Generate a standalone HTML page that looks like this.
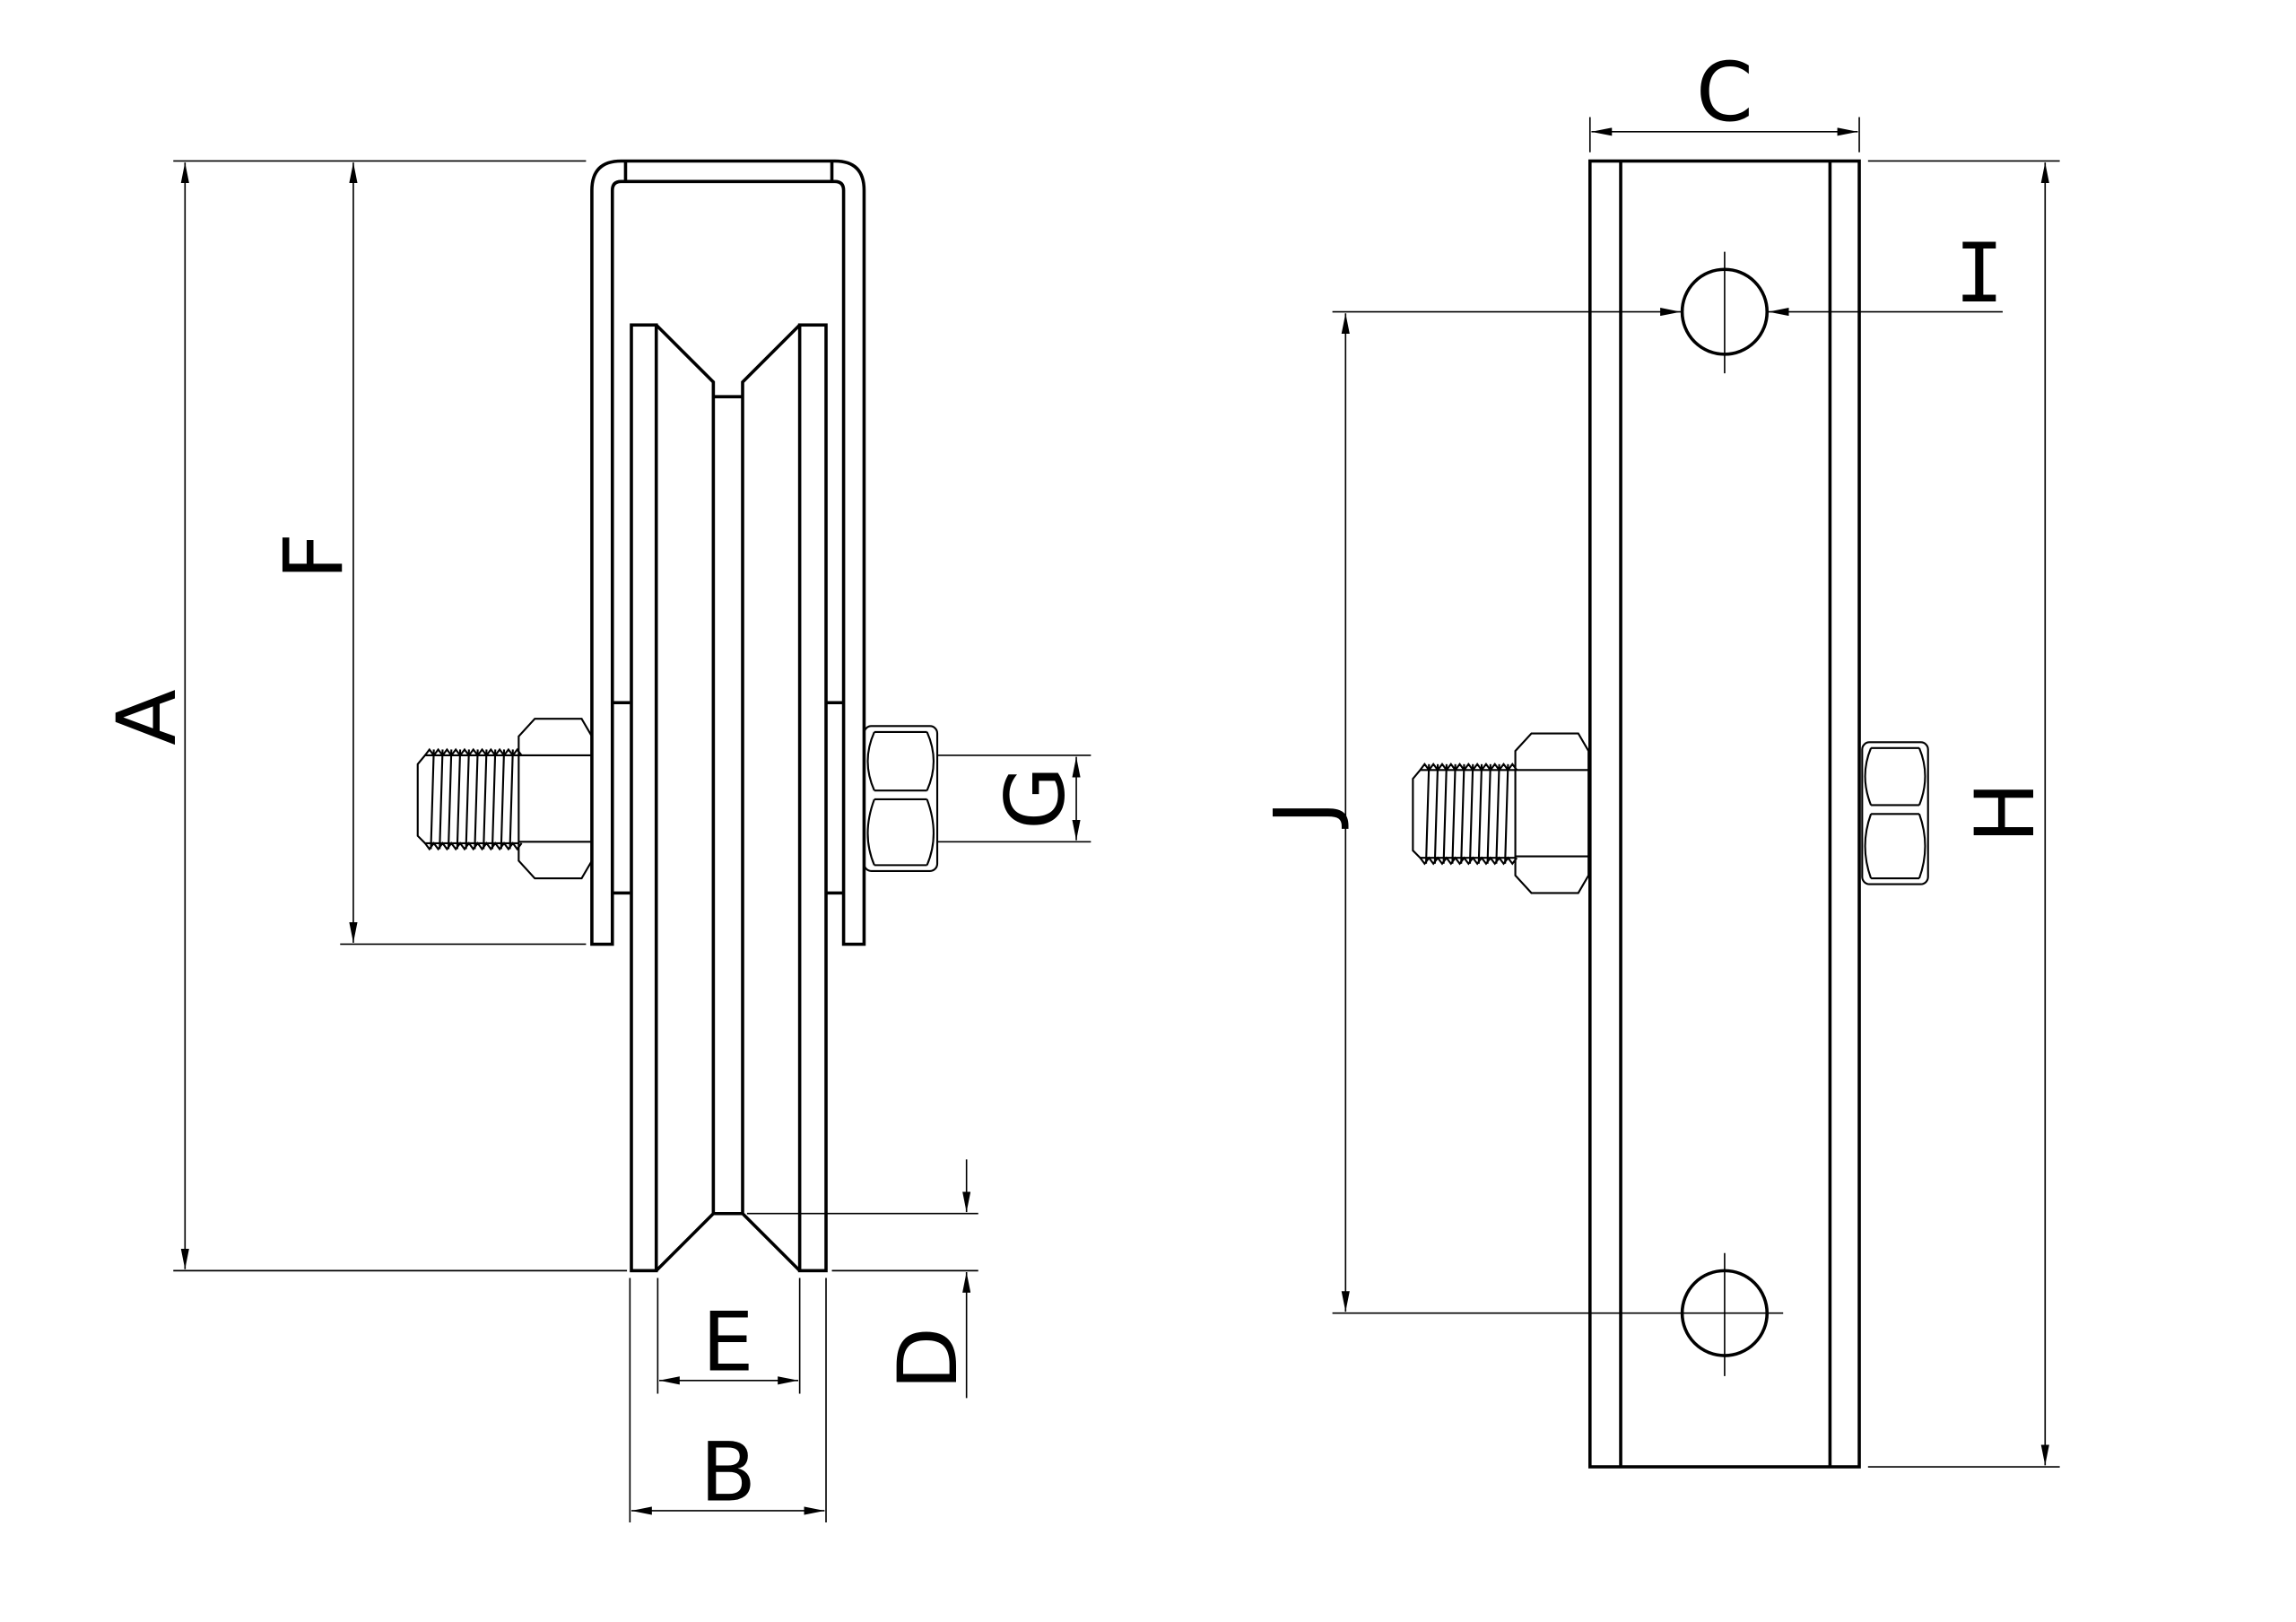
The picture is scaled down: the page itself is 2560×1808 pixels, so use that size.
<!DOCTYPE html>
<html><head><meta charset="utf-8"><style>
html,body{margin:0;padding:0;background:#fff}
svg{display:block}
text{font-family:"DejaVu Sans","Liberation Sans",sans-serif;font-size:56px;fill:#000}
</style></head><body>
<svg width="2560" height="1808" viewBox="0 0 1568 1108" xmlns="http://www.w3.org/2000/svg">
<defs>
<marker id="ar" viewBox="0 0 10 4" refX="10" refY="2" markerWidth="14" markerHeight="5.6" markerUnits="userSpaceOnUse" orient="auto-start-reverse">
<path d="M0,0 L10,2 L0,4 z" fill="#000"/></marker>
</defs>
<g fill="none" stroke="#000" stroke-width="2.2">
<!-- bracket -->
<path d="M404,645 V130 Q404,110 424,110 H570 Q590,110 590,130 V645 H576 V130 Q576,124 570,124 H424 Q418,124 418,130 V645 Z"/>
<line x1="427" y1="110" x2="427" y2="124"/><line x1="568" y1="110" x2="568" y2="124"/>
<line x1="418" y1="480" x2="430" y2="480"/><line x1="418" y1="610" x2="430" y2="610"/>
<line x1="564" y1="480" x2="576" y2="480"/><line x1="564" y1="610" x2="576" y2="610"/>
<!-- wheel -->
<rect x="431" y="222" width="17" height="646"/>
<rect x="546" y="222" width="18" height="646"/>
<path d="M448,222 L487,261 V829 L448,868"/>
<path d="M546,222 L507,261 V829 L546,868"/>
<line x1="487" y1="271" x2="507" y2="271"/><line x1="487" y1="829" x2="507" y2="829"/>
<!-- right view -->
<rect x="1086" y="110" width="184" height="892"/>
<line x1="1107" y1="110" x2="1107" y2="1002"/><line x1="1250" y1="110" x2="1250" y2="1002"/>
<circle cx="1178" cy="213" r="29"/><circle cx="1178" cy="897" r="29"/>
</g>
<g fill="none" stroke="#000" stroke-width="1.3">
<!-- left bolt -->
<path d="M365,491 H397 L404,503 V588 L397,600 H365 L354,588 V503 Z"/>
<line x1="354" y1="516" x2="404" y2="516"/><line x1="354" y1="575" x2="404" y2="575"/>
<path d="M354,516 L290,516 L285,522 V571 L290,576 H354"/>
<path d="M290,516 l3,-4 l3,4 l3,-4 l3,4 l3,-4 l3,4 l3,-4 l3,4 l3,-4 l3,4 l3,-4 l3,4 l3,-4 l3,4 l3,-4 l3,4 l3,-4 l3,4 l3,-4 l3,4 l3,-4 l3,4"/>
<path d="M290,576 l3,4 l3,-4 l3,4 l3,-4 l3,4 l3,-4 l3,4 l3,-4 l3,4 l3,-4 l3,4 l3,-4 l3,4 l3,-4 l3,4 l3,-4 l3,4 l3,-4 l3,4 l3,-4 l3,4 l3,-4"/>
<path d="M296,512 l-2,68 M302,512 l-2,68 M308,512 l-2,68 M314,512 l-2,68 M320,512 l-2,68 M326,512 l-2,68 M332,512 l-2,68 M338,512 l-2,68 M344,512 l-2,68 M350,512 l-2,68"/>
<!-- right nut left view -->
<rect x="590" y="496" width="50" height="99" rx="5"/>
<path d="M597,500 Q588,520 597,540 M633,500 Q642,520 633,540 M597,546 Q588,570 597,591 M633,546 Q642,570 633,591"/>
<line x1="597" y1="500" x2="633" y2="500"/><line x1="597" y1="540" x2="633" y2="540"/><line x1="597" y1="546" x2="633" y2="546"/><line x1="597" y1="591" x2="633" y2="591"/>
<!-- right view bolt -->
<path d="M1046,501 H1078 L1085,513 V598 L1078,610 H1046 L1035,598 V513 Z"/>
<line x1="1035" y1="526" x2="1085" y2="526"/><line x1="1035" y1="585" x2="1085" y2="585"/>
<path d="M1035,526 L970,526 L965,532 V581 L970,586 H1035"/>
<path d="M970,526 l3,-4 l3,4 l3,-4 l3,4 l3,-4 l3,4 l3,-4 l3,4 l3,-4 l3,4 l3,-4 l3,4 l3,-4 l3,4 l3,-4 l3,4 l3,-4 l3,4 l3,-4 l3,4 l3,-4 l3,4"/>
<path d="M970,586 l3,4 l3,-4 l3,4 l3,-4 l3,4 l3,-4 l3,4 l3,-4 l3,4 l3,-4 l3,4 l3,-4 l3,4 l3,-4 l3,4 l3,-4 l3,4 l3,-4 l3,4 l3,-4 l3,4 l3,-4"/>
<path d="M976,522 l-2,68 M982,522 l-2,68 M988,522 l-2,68 M994,522 l-2,68 M1000,522 l-2,68 M1006,522 l-2,68 M1012,522 l-2,68 M1018,522 l-2,68 M1024,522 l-2,68 M1030,522 l-2,68"/>
<rect x="1272" y="507" width="45" height="97" rx="5"/>
<path d="M1278,511 Q1270,530 1278,550 M1311,511 Q1319,530 1311,550 M1278,556 Q1270,578 1278,600 M1311,556 Q1319,578 1311,600"/>
<line x1="1278" y1="511" x2="1311" y2="511"/><line x1="1278" y1="550" x2="1311" y2="550"/><line x1="1278" y1="556" x2="1311" y2="556"/><line x1="1278" y1="600" x2="1311" y2="600"/>
</g>
<g fill="none" stroke="#000" stroke-width="1">
<line x1="118" y1="110" x2="400" y2="110"/><line x1="118" y1="868" x2="428" y2="868"/>
<line x1="232" y1="645" x2="400" y2="645"/>
<line x1="640" y1="516" x2="745" y2="516"/><line x1="640" y1="575" x2="745" y2="575"/>
<line x1="510" y1="829" x2="668" y2="829"/><line x1="568" y1="868" x2="668" y2="868"/>
<line x1="449" y1="873" x2="449" y2="952"/><line x1="546" y1="873" x2="546" y2="952"/>
<line x1="430" y1="873" x2="430" y2="1040"/><line x1="564" y1="873" x2="564" y2="1040"/>
<line x1="1086" y1="80" x2="1086" y2="104"/><line x1="1270" y1="80" x2="1270" y2="104"/>
<line x1="1276" y1="110" x2="1407" y2="110"/><line x1="1276" y1="1002" x2="1407" y2="1002"/>
<line x1="910" y1="897" x2="1218" y2="897"/>
<line x1="1178" y1="172" x2="1178" y2="255"/><line x1="1178" y1="856" x2="1178" y2="940"/>
<line x1="126" y1="111" x2="126" y2="867" marker-start="url(#ar)" marker-end="url(#ar)"/>
<line x1="241" y1="111" x2="241" y2="644" marker-start="url(#ar)" marker-end="url(#ar)"/>
<line x1="735" y1="517" x2="735" y2="574" marker-start="url(#ar)" marker-end="url(#ar)"/>
<line x1="660" y1="792" x2="660" y2="828" marker-end="url(#ar)"/>
<line x1="660" y1="955" x2="660" y2="869" marker-end="url(#ar)"/>
<line x1="450" y1="943" x2="545" y2="943" marker-start="url(#ar)" marker-end="url(#ar)"/>
<line x1="431" y1="1032" x2="563" y2="1032" marker-start="url(#ar)" marker-end="url(#ar)"/>
<line x1="1087" y1="90" x2="1269" y2="90" marker-start="url(#ar)" marker-end="url(#ar)"/>
<line x1="910" y1="213" x2="1148" y2="213" marker-end="url(#ar)"/>
<line x1="1368" y1="213" x2="1208" y2="213" marker-end="url(#ar)"/>
<line x1="919" y1="214" x2="919" y2="896" marker-start="url(#ar)" marker-end="url(#ar)"/>
<line x1="1397" y1="111" x2="1397" y2="1001" marker-start="url(#ar)" marker-end="url(#ar)"/>
</g>
<text x="1178" y="82" text-anchor="middle">C</text>
<text x="1352" y="206" text-anchor="middle" style="font-family:'DejaVu Sans Mono',monospace">I</text>
<text x="497" y="936" text-anchor="middle">E</text>
<text x="497" y="1025" text-anchor="middle">B</text>
<text transform="translate(119,490) rotate(-90)" text-anchor="middle">A</text>
<text transform="translate(233,380) rotate(-90)" text-anchor="middle">F</text>
<text transform="translate(726,545) rotate(-90)" text-anchor="middle">G</text>
<text transform="translate(653,928) rotate(-90)" text-anchor="middle">D</text>
<text transform="translate(910,555) rotate(-90)" text-anchor="middle">J</text>
<text transform="translate(1389,555) rotate(-90)" text-anchor="middle">H</text>
</svg>
</body></html>
